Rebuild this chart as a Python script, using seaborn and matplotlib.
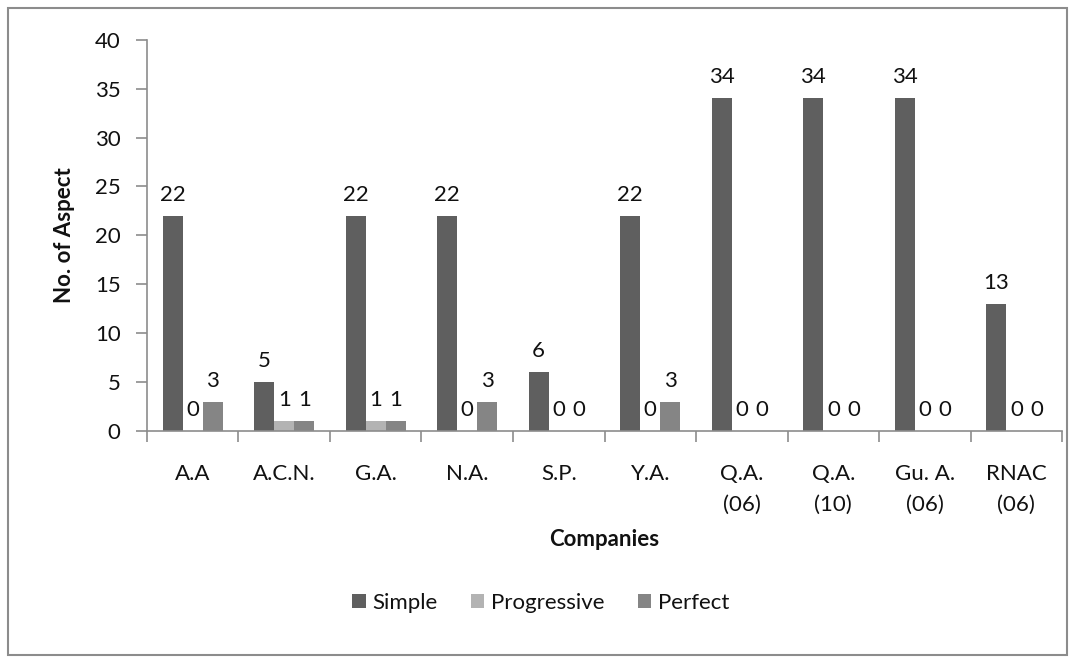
import matplotlib
matplotlib.use("Agg")
import matplotlib.pyplot as plt
from matplotlib.patches import Rectangle
import seaborn as sns
import pandas as pd
import numpy as np

companies = ["A.A", "A.C.N.", "G.A.", "N.A.", "S.P.", "Y.A.",
             "Q.A.\n(06)", "Q.A.\n(10)", "Gu. A.\n(06)", "RNAC\n(06)"]
simple = [22, 5, 22, 22, 6, 22, 34, 34, 34, 13]
progressive = [0, 1, 1, 0, 0, 0, 0, 0, 0, 0]
perfect = [3, 1, 1, 3, 0, 3, 0, 0, 0, 0]
series = ["Simple", "Progressive", "Perfect"]
colors = ["#5f5f5f", "#b3b3b3", "#858585"]

df = pd.DataFrame({
    "Companies": companies * 3,
    "value": simple + progressive + perfect,
    "type": [s for s in series for _ in companies],
})

sns.set_theme(style="white")
plt.rcParams["font.family"] = ["Lato", "DejaVu Sans"]

FS = 16
TXT = "#111111"

fig = plt.figure(figsize=(10.75, 6.63), dpi=100)
ax = fig.add_axes([0.1367, 0.350, 0.8513, 0.590])

sns.barplot(data=df, x="Companies", y="value", hue="type", order=companies,
            hue_order=series, palette=colors, saturation=1, width=0.66,
            linewidth=0, ax=ax, legend=True)

for cont in ax.containers:
    ax.bar_label(cont, labels=[f"{int(round(b.get_height()))}" for b in cont],
                 padding=8, fontsize=FS, color=TXT)

ax.set_ylim(0, 40)
ax.set_yticks(np.arange(0, 41, 5))
ax.set_xlim(-0.5, len(companies) - 0.5)

spine_color = "#8c8c8c"
for side in ["top", "right"]:
    ax.spines[side].set_visible(False)
for side in ["left", "bottom"]:
    ax.spines[side].set_color(spine_color)
    ax.spines[side].set_linewidth(1.2)

ax.tick_params(axis="y", which="major", left=True, length=8, width=1.2,
               color=spine_color, labelsize=FS, labelcolor=TXT, pad=11)
ax.tick_params(axis="x", which="major", bottom=False, length=0,
               labelsize=FS, labelcolor=TXT, pad=24)
for lbl in ax.get_xticklabels():
    lbl.set_linespacing(1.65)
ax.set_xticks(np.arange(-0.5, len(companies)), minor=True)
ax.tick_params(axis="x", which="minor", bottom=True, length=8, width=1.2,
               color=spine_color)

ax.set_xlabel("Companies", fontsize=FS, fontweight="bold", labelpad=10, color=TXT)
ax.set_ylabel("No. of Aspect", fontsize=FS, fontweight="bold", labelpad=14, color=TXT)

handles, labels = ax.get_legend_handles_labels()
ax.legend_.remove()
fig.legend(handles, labels, loc="center", bbox_to_anchor=(0.503, 0.091),
           ncol=3, frameon=False, fontsize=FS, handlelength=0.6,
           handleheight=0.6, handletextpad=0.3, columnspacing=1.5,
           labelcolor=TXT)

fig.patches.append(Rectangle((8 / 1075, 8 / 663), 1059 / 1075, 647 / 663,
                             transform=fig.transFigure, fill=False,
                             edgecolor="#8c8c8c", linewidth=1.5))

fig.savefig("out.png", dpi=100)
